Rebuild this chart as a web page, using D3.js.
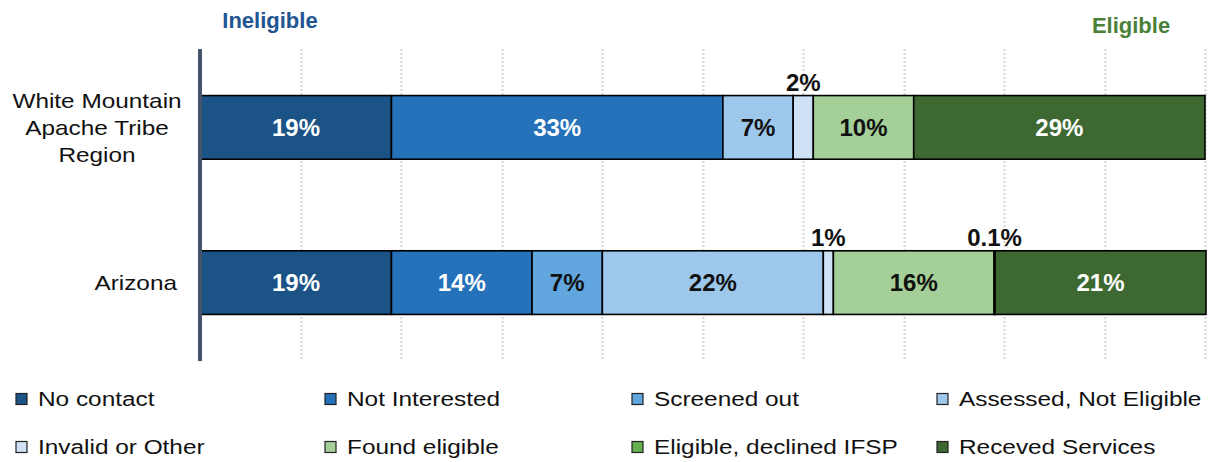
<!DOCTYPE html>
<html>
<head>
<meta charset="utf-8">
<script src="https://cdn.jsdelivr.net/npm/d3@7"></script>
<style>
  html, body { margin: 0; padding: 0; background: #fff; }
  svg { display: block; font-family: "Liberation Sans", Arial, sans-serif; }
</style>
</head>
<body>
<svg id="chart" width="1210" height="462"></svg>
<script>
// Referral outcome shares (%) by region
const regions = ["White Mountain Apache Tribe Region", "Arizona"];
const regionLines = [["White Mountain", "Apache Tribe", "Region"], ["Arizona"]];
const statuses = ["No contact", "Not Interested", "Screened out", "Assessed, Not Eligible",
                  "Invalid or Other", "Found eligible", "Eligible, declined IFSP", "Receved Services"];
const whiteMountain = [19, 33, 0, 7, 2, 10, 0, 29];
const arizona = [19, 14, 7, 22, 1, 16, 0.1, 21];
const colors = ["#1c5387", "#2571ba", "#62a6df", "#9ec7ec", "#cfe2f5", "#a4cf98", "#66b050", "#3d6832"];
const labelColors = ["#fff", "#fff", "#111", "#111", "#111", "#111", "#111", "#fff"];
const gridTicks = [10, 20, 30, 40, 50, 60, 70, 80, 90, 100];

const svg = d3.select("#chart");

const x = d3.scaleLinear().domain([0, 100]).range([200.6, 1205]);
const y = d3.scaleBand().domain(regions).range([49, 361]).paddingInner(0.59).paddingOuter(0.3);

// dotted vertical gridlines
svg.append("g").selectAll("line").data(gridTicks).join("line")
  .attr("x1", d => Math.round(x(d)) + 0.5).attr("x2", d => Math.round(x(d)) + 0.5)
  .attr("y1", 49).attr("y2", 361)
  .attr("stroke", "#d4d4d4").attr("stroke-width", 2).attr("stroke-dasharray", "2,2");

// stacked segments
const rows = [whiteMountain, arizona].map((vals, i) => {
  let acc = 0;
  return vals.map((v, k) => {
    const s = { region: regions[i], k, v, x0: acc, x1: acc + v };
    acc += v;
    return s;
  });
});

const barG = svg.append("g");
rows.forEach(segs => {
  barG.selectAll(null).data(segs.filter(s => s.v > 0)).join("rect")
    .attr("x", s => x(s.x0)).attr("width", s => Math.max(0, x(s.x1) - x(s.x0)))
    .attr("y", s => y(s.region)).attr("height", y.bandwidth())
    .attr("fill", s => colors[s.k])
    .attr("stroke", "#000").attr("stroke-width", 1.6);
});

// value labels: inside wide segments, above narrow ones
const fmt = v => (v < 1 ? d3.format(".1f")(v) : d3.format("d")(v)) + "%";
rows.forEach(segs => {
  svg.append("g").selectAll("text").data(segs.filter(s => s.v > 0)).join("text")
    .attr("x", s => (x(s.x0) + x(s.x1)) / 2)
    .attr("y", s => s.v < 5 ? y(s.region) - 4.5 : y(s.region) + y.bandwidth() / 2 + 8.5)
    .attr("text-anchor", "middle")
    .attr("font-size", 24).attr("font-weight", "bold")
    .attr("fill", s => s.v < 5 ? "#111" : labelColors[s.k])
    .text(s => fmt(s.v));
});

// category axis line
svg.append("line").attr("x1", 200).attr("x2", 200).attr("y1", 49).attr("y2", 361)
  .attr("stroke", "#44546a").attr("stroke-width", 4);

// category labels (slightly widened type)
const catScale = 1.16;
regions.forEach((r, i) => {
  const lines = regionLines[i];
  const cy = y(r) + y.bandwidth() / 2;
  const lh = 27;
  const multi = lines.length > 1;
  lines.forEach((line, j) => {
    svg.append("text")
      .attr("transform", `translate(${multi ? 97 : 177},${cy + 7.5 + (j - (lines.length - 1) / 2) * lh}) scale(${catScale},1)`)
      .attr("text-anchor", multi ? "middle" : "end")
      .attr("font-size", 21).attr("fill", "#111")
      .text(line);
  });
});

// group headers
svg.append("text").attr("x", 270).attr("y", 28).attr("text-anchor", "middle")
  .attr("font-size", 22).attr("font-weight", "bold").attr("fill", "#1f5591")
  .text("Ineligible");
svg.append("text").attr("x", 1131).attr("y", 33).attr("text-anchor", "middle")
  .attr("font-size", 22).attr("font-weight", "bold").attr("fill", "#4a8038")
  .text("Eligible");

// legend
const legX = [16, 325, 632, 937];
const legY = [399, 447];
const leg = svg.append("g").selectAll("g").data(statuses).join("g")
  .attr("transform", (d, i) => `translate(${legX[i % 4]},${legY[Math.floor(i / 4)]})`);
leg.append("rect").attr("x", 0).attr("y", -5.5).attr("width", 11).attr("height", 11)
  .attr("fill", (d, i) => colors[i]).attr("stroke", "#222").attr("stroke-width", 1.2);
leg.append("text").attr("transform", "translate(22,7) scale(1.25,1)")
  .attr("font-size", 19.5).attr("fill", "#111")
  .text(d => d);
</script>
</body>
</html>
